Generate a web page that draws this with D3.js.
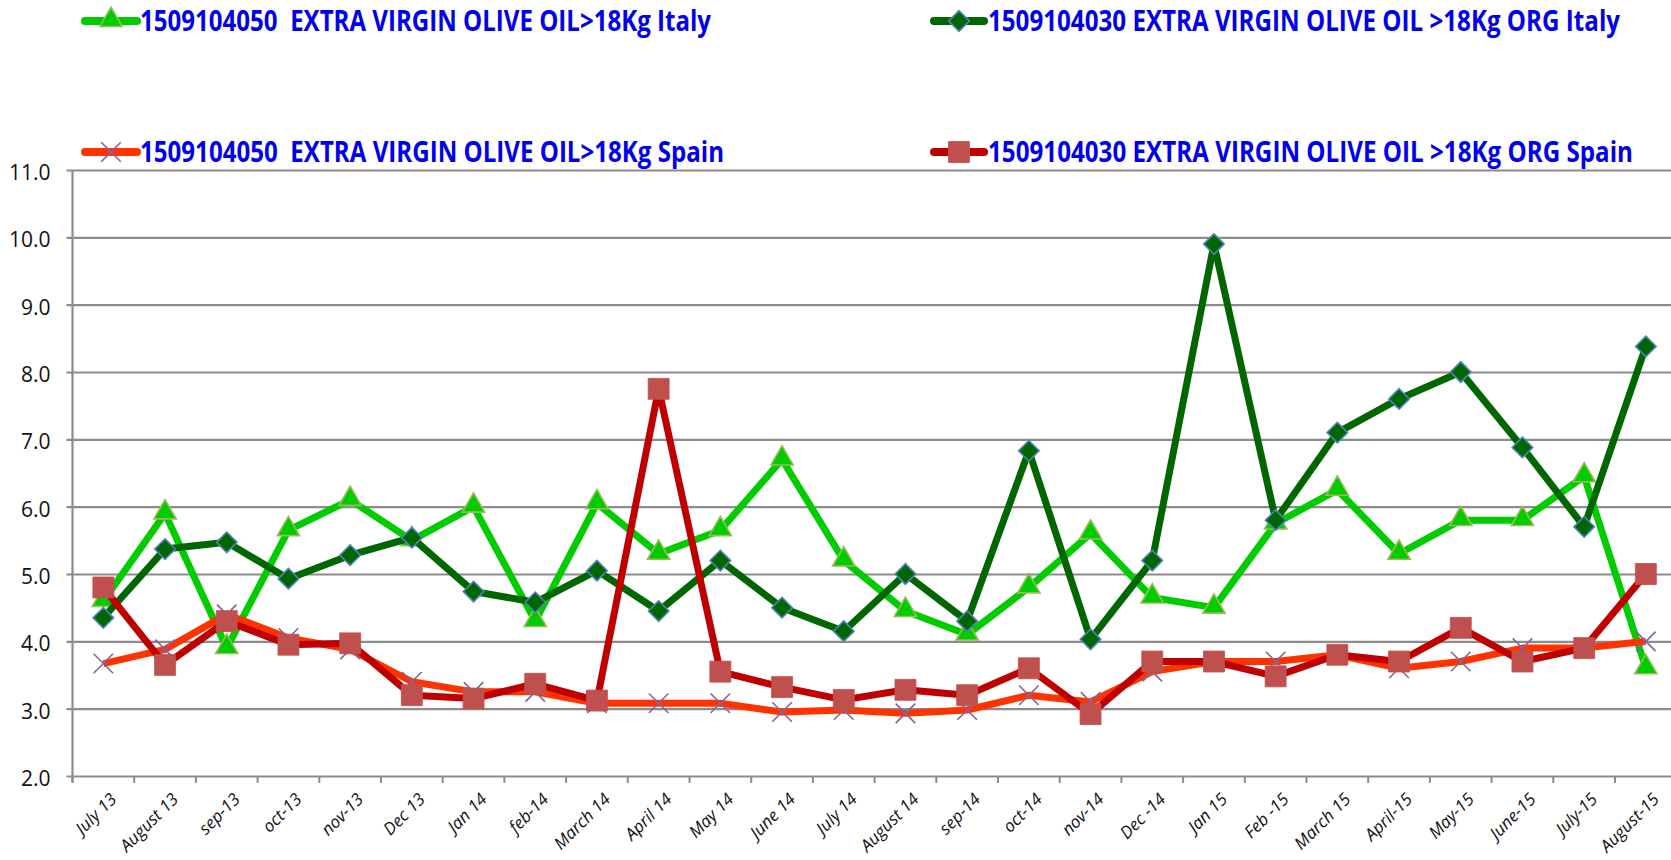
<!DOCTYPE html>
<html>
<head>
<meta charset="utf-8">
<script src="https://cdn.jsdelivr.net/npm/d3@7"></script>
<style>
  html, body { margin: 0; padding: 0; background: #ffffff; }
  svg { display: block; }
</style>
</head>
<body>
<svg id="chart" width="1671" height="860"></svg>
<script>
// ---- data ----
const categories = ["July 13","August 13","sep-13","oct-13","nov-13","Dec 13","Jan 14","feb-14","March 14","April 14","May 14","June 14","July 14","August 14","sep-14","oct-14","nov-14","Dec -14","Jan 15","Feb -15","March 15","April-15","May-15","June-15","July-15","August-15"];
const italy     = [4.6, 5.9, 3.9, 5.65, 6.1, 5.5, 6.0, 4.3, 6.05, 5.3, 5.65, 6.7, 5.2, 4.45, 4.1, 4.8, 5.6, 4.65, 4.5, 5.75, 6.25, 5.3, 5.8, 5.8, 6.45, 3.6];
const italyOrg  = [4.35, 5.37, 5.47, 4.93, 5.28, 5.54, 4.74, 4.58, 5.05, 4.45, 5.2, 4.5, 4.15, 5.0, 4.3, 6.83, 4.03, 5.2, 9.9, 5.8, 7.1, 7.6, 8.0, 6.88, 5.7, 8.38];
const spain     = [3.67, 3.88, 4.4, 4.05, 3.88, 3.4, 3.25, 3.25, 3.08, 3.08, 3.08, 2.95, 2.98, 2.93, 2.98, 3.2, 3.1, 3.55, 3.7, 3.7, 3.8, 3.6, 3.7, 3.9, 3.9, 4.0];
const spainOrg  = [4.8, 3.65, 4.3, 3.95, 3.97, 3.2, 3.15, 3.37, 3.12, 7.75, 3.55, 3.32, 3.13, 3.28, 3.2, 3.6, 2.92, 3.7, 3.7, 3.48, 3.8, 3.7, 4.2, 3.7, 3.9, 5.0];
const seriesNames = [
  "1509104050  EXTRA VIRGIN OLIVE OIL>18Kg Italy",
  "1509104030 EXTRA VIRGIN OLIVE OIL >18Kg ORG Italy",
  "1509104050  EXTRA VIRGIN OLIVE OIL>18Kg Spain",
  "1509104030 EXTRA VIRGIN OLIVE OIL >18Kg ORG Spain"
];
const yTicks = [2, 3, 4, 5, 6, 7, 8, 9, 10, 11];

// ---- styles ----
const styles = [
  {values: italy,    line: "#00CC00", fill: "#00CC00", stroke: "#9BBB59", symbol: "triangle"},
  {values: italyOrg, line: "#006600", fill: "#006600", stroke: "#4F81BD", symbol: "diamond"},
  {values: spain,    line: "#FF3300", fill: "none",    stroke: "#8064A2", symbol: "x"},
  {values: spainOrg, line: "#C00000", fill: "#C0504D", stroke: "#C0504D", symbol: "square"}
];

const svg = d3.select("#chart");
const plotLeft = 72.5, plotRight = 1676.7, plotTop = 170, plotBottom = 776;

const x = d3.scaleBand().domain(categories).range([plotLeft, plotRight]).padding(0);
const y = d3.scaleLinear().domain([2, 11]).range([plotBottom, plotTop]);
const cx = c => x(c) + x.bandwidth() / 2;

function symbolPath(kind) {
  if (kind === "triangle") return d3.symbol(d3.symbolTriangle, 215)();
  if (kind === "diamond") return d3.symbol(d3.symbolSquare, 210)();
  if (kind === "square") return d3.symbol(d3.symbolSquare, 440)();
  return d3.symbol(d3.symbolX, 250)();
}
function drawMarker(g, kind, st) {
  const p = g.append("path").attr("d", symbolPath(kind));
  if (kind === "diamond") p.attr("transform", "rotate(45)");
  if (kind === "triangle") p.attr("transform", "translate(0,-1)");
  if (kind === "x") {
    p.attr("fill", "none").attr("stroke", st.stroke).attr("stroke-width", 1.6);
  } else {
    p.attr("fill", st.fill).attr("stroke", st.stroke).attr("stroke-width", kind === "square" ? 0.8 : 1.6);
  }
}

// ---- gridlines & y axis ----
const gy = svg.append("g").attr("transform", `translate(${plotLeft},0)`)
  .call(d3.axisLeft(y).tickValues(yTicks).tickSize(6).tickFormat(d3.format(".1f")));
gy.select(".domain").remove();
gy.selectAll(".tick line").attr("stroke", "#8c8c8c").attr("stroke-width", 2.2)
  .attr("x1", -6).attr("x2", plotRight - plotLeft);
gy.selectAll(".tick text")
  .attr("x", -22).attr("dy", "0.45em")
  .attr("fill", "#111").style("font-family", "'Open Sans', sans-serif").style("font-size", "21px");
svg.append("line").attr("x1", plotLeft).attr("x2", plotLeft).attr("y1", plotTop).attr("y2", plotBottom + 6)
  .attr("stroke", "#8c8c8c").attr("stroke-width", 2.2);

// ---- x axis ----
const gx = svg.append("g").attr("transform", `translate(0,${plotBottom})`)
  .call(d3.axisBottom(x).tickSize(0));
gx.select(".domain").remove();
gx.selectAll(".tick text")
  .attr("text-anchor", "end")
  .attr("transform", "translate(8,18) rotate(-45)")
  .attr("dy", "0.35em")
  .attr("fill", "#111")
  .style("font-family", "'Open Sans', sans-serif").style("font-style", "italic").style("font-size", "17px");
const boundaries = categories.map(c => x(c)).concat([plotRight]);
svg.append("g").selectAll("line").data(boundaries).join("line")
  .attr("x1", d => d).attr("x2", d => d).attr("y1", plotBottom).attr("y2", plotBottom + 7)
  .attr("stroke", "#8c8c8c").attr("stroke-width", 2);

// ---- series ----
const line = d3.line().x((d, i) => cx(categories[i])).y(d => y(d));
styles.forEach(st => {
  const g = svg.append("g");
  g.append("path").datum(st.values).attr("d", line)
    .attr("fill", "none").attr("stroke", st.line).attr("stroke-width", 7)
    .attr("stroke-linejoin", "round");
  st.values.forEach((v, i) => {
    const m = g.append("g").attr("transform", `translate(${cx(categories[i])},${y(v)})`);
    drawMarker(m, st.symbol, st);
  });
});

// ---- legend ----
const legendPos = [
  {lx1: 85, lx2: 137, ly: 21, tx: 140, tw: 571, ty: 31},
  {lx1: 934, lx2: 984, ly: 21, tx: 988, tw: 632, ty: 31},
  {lx1: 85, lx2: 137, ly: 152, tx: 140, tw: 584, ty: 162},
  {lx1: 934, lx2: 984, ly: 152, tx: 988, tw: 645, ty: 162}
];
seriesNames.forEach((name, i) => {
  const p = legendPos[i], st = styles[i];
  const g = svg.append("g");
  g.append("line").attr("x1", p.lx1).attr("x2", p.lx2).attr("y1", p.ly).attr("y2", p.ly)
    .attr("stroke", st.line).attr("stroke-width", 8).attr("stroke-linecap", "round");
  const m = g.append("g").attr("transform", `translate(${(p.lx1 + p.lx2) / 2},${p.ly})`);
  drawMarker(m, st.symbol, st);
  g.append("text").attr("x", 0).attr("y", 0)
    .attr("transform", `translate(${p.tx},${p.ty}) scale(1,1.17)`)
    .attr("textLength", p.tw).attr("lengthAdjust", "spacingAndGlyphs")
    .style("white-space", "pre")
    .attr("fill", "#0000EE")
    .style("font-family", "'Open Sans', sans-serif").style("font-weight", "700").style("font-size", "24px")
    .text(name);
});
</script>
</body>
</html>
